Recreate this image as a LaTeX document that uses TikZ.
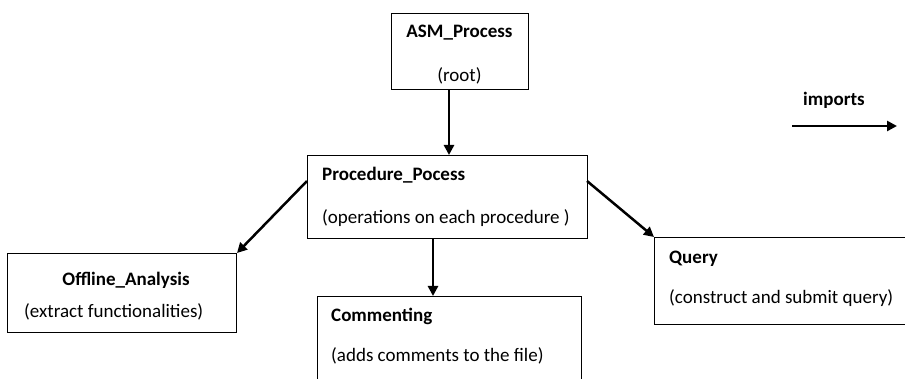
\documentclass[tikz,border=0pt]{standalone}
\usepackage{fontspec}
\setmainfont{Carlito}
\usetikzlibrary{arrows.meta}
\begin{document}
\begin{tikzpicture}[x=1pt,y=-1pt,
  box/.style={draw,line width=1pt,anchor=north west,inner sep=0pt,minimum width=#1},
  label/.style={anchor=base west,inner sep=0pt,font=\fontsize{19}{22}\selectfont},
  title/.style={label,font=\fontsize{19}{22}\selectfont\bfseries},
  imp/.style={line width=2.5pt,-{Triangle[length=10pt,width=10pt]}}]
\useasboundingbox (0,0) rectangle (905,379);
\clip (0,0) rectangle (905,379);

% boxes
\node[box=137pt,minimum height=76pt] (asm) at (391,13) {};
\node[box=280pt,minimum height=83pt] (proc) at (307,155) {};
\node[box=229pt,minimum height=79pt] (off) at (7,253) {};
\node[box=264pt,minimum height=120pt] (com) at (317,296) {};
\node[box=260pt,minimum height=87pt] (qry) at (654,237) {};

% texts
\node[title,anchor=base] (asmT) at (459.5,38) {ASM\_Process};
\node[label,anchor=base] (asmS) at (459.5,82) {(root)};
\node[title] (procT) at (322,181) {Procedure\_Pocess};
\node[label] (procS) at (322,224) {(operations on each procedure )};
\node[title,anchor=base] (offT) at (126,286) {Offline\_Analysis};
\node[label] (offS) at (24,318) {(extract functionalities)};
\node[title] (comT) at (331,322) {Commenting};
\node[label] (comS) at (331,361) {(adds comments to the file)};
\node[title] (qryT) at (669,264) {Query};
\node[label] (qryS) at (669,304) {(construct and submit query)};
\node[title] (impT) at (803,106) {imports};

% connectors
\coordinate (ax) at (449,0);
\coordinate (bx) at (433,0);
\coordinate (pl) at (307,181);
\coordinate (pr) at (587,181);
\draw[imp] (asm.south -| ax) -- (proc.north -| ax);
\draw[imp] (proc.south -| bx) -- (com.north -| bx);
\draw[imp] (pl) -- (off.north east);
\draw[imp] (pr) -- (qry.north west);
\coordinate (k1) at (792,126);
\coordinate (k2) at (897,126);
\draw[imp] (k1) -- (k2);
\end{tikzpicture}
\end{document}
